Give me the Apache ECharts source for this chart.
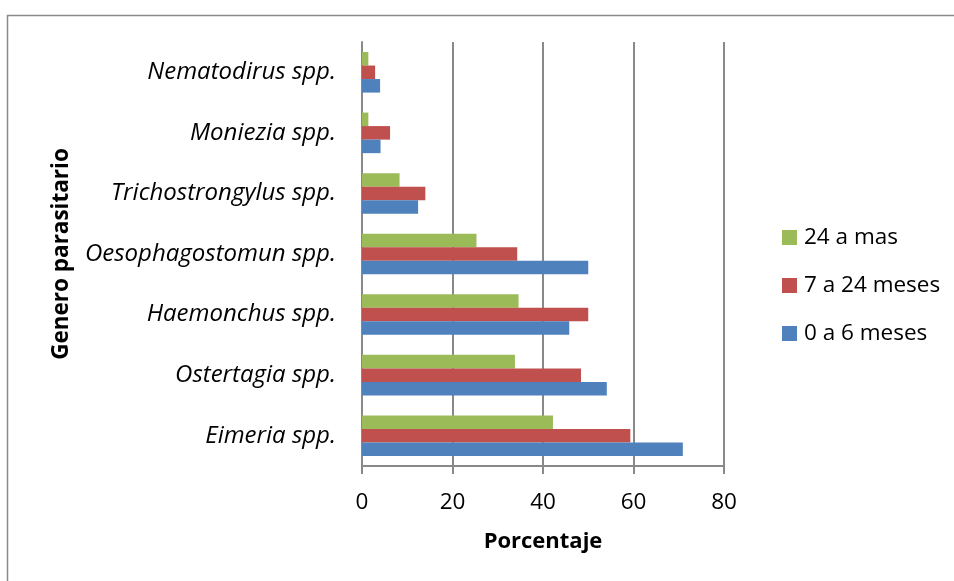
<!DOCTYPE html>
<html>
<head>
<meta charset="utf-8">
<script src="https://cdn.jsdelivr.net/npm/echarts@6/dist/echarts.min.js"></script>
<style>
  html, body { margin: 0; padding: 0; background: #fff; }
  #chart { width: 954px; height: 581px; }
</style>
</head>
<body>
<div id="chart"></div>
<script>
// data
const categories = [
  'Eimeria spp.',
  'Ostertagia spp.',
  'Haemonchus spp.',
  'Oesophagostomun spp.',
  'Trichostrongylus spp.',
  'Moniezia spp.',
  'Nematodirus spp.',
]
const seriesNames = ['0 a 6 meses', '7 a 24 meses', '24 a mas']
const young = [70.9, 54.1, 45.8, 50.0, 12.4, 4.1, 4.0]
const middle = [59.3, 48.4, 50.0, 34.3, 14.0, 6.2, 2.9]
const old = [42.2, 33.8, 34.6, 25.3, 8.3, 1.4, 1.4]
const xTicks = { min: 0, max: 80, interval: 20 }

const colors = ['#4F81BD', '#C0504D', '#9BBB59']
const font = '"Open Sans", sans-serif'
const gridGray = '#898989'

const chart = echarts.init(document.getElementById('chart'))

const makeSeries = (name, values, i) => ({
  name,
  type: 'bar',
  data: values,
  barGap: '0%',
  barCategoryGap: '33%',
  itemStyle: { color: colors[i] },
  emphasis: { disabled: true },
})

chart.setOption({
  animation: false,
  textStyle: { fontFamily: font },
  graphic: [
    {
      type: 'rect',
      left: 5,
      top: 13,
      shape: { width: 1000, height: 620 },
      style: { fill: 'none', stroke: '#8a8a8a', lineWidth: 1.5 },
      silent: true,
    },
  ],
  grid: { left: 362, right: 230, top: 42, bottom: 115 },
  legend: {
    orient: 'vertical',
    left: 777,
    top: 221,
    itemWidth: 15,
    itemHeight: 15,
    itemGap: 25,
    icon: 'rect',
    data: [seriesNames[2], seriesNames[1], seriesNames[0]],
    textStyle: { fontSize: 22.5, color: '#000', fontFamily: font, padding: [0, 0, 0, 2] },
  },
  xAxis: {
    type: 'value',
    min: xTicks.min,
    max: xTicks.max,
    interval: xTicks.interval,
    name: 'Porcentaje',
    nameLocation: 'middle',
    nameGap: 65,
    nameTextStyle: { fontSize: 22, fontWeight: 'bold', color: '#000' },
    axisLine: { show: true, lineStyle: { color: gridGray, width: 2 } },
    axisTick: { show: true, length: 8, lineStyle: { color: gridGray, width: 2 } },
    axisLabel: { fontSize: 22.5, color: '#000', margin: 25 },
    splitLine: { show: true, lineStyle: { color: gridGray, width: 2 } },
  },
  yAxis: {
    type: 'category',
    data: categories,
    name: 'Genero parasitario',
    nameLocation: 'middle',
    nameGap: 289,
    nameTextStyle: { fontSize: 22.5, fontWeight: 'bold', color: '#000' },
    axisLine: { show: true, lineStyle: { color: gridGray, width: 2 } },
    axisTick: { show: false },
    axisLabel: { fontSize: 24, fontStyle: 'italic', color: '#000', margin: 26 },
    splitLine: { show: false },
  },
  // first series sits on top of each group in a horizontal bar chart
  series: [
    makeSeries(seriesNames[2], old, 2),
    makeSeries(seriesNames[1], middle, 1),
    makeSeries(seriesNames[0], young, 0),
  ],
})
</script>
</body>
</html>
